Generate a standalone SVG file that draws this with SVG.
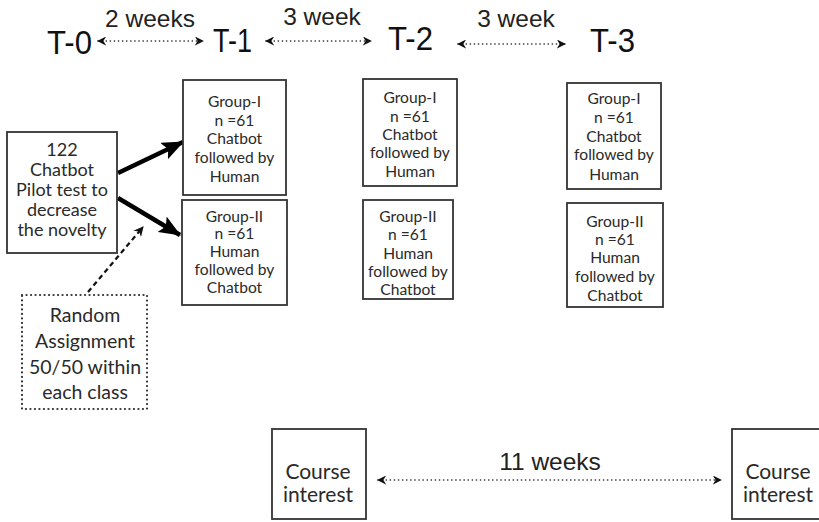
<svg xmlns="http://www.w3.org/2000/svg" width="819" height="522" viewBox="0 0 819 522">
  <style>
    .box { fill: #ffffff; stroke: #333333; stroke-width: 1.8; }
    .rand { fill: #ffffff; stroke: #333333; stroke-width: 2.2; stroke-dasharray: 0.1 4.4; stroke-linecap: round; }
    .lbl { font-family: Lato, "Liberation Sans", sans-serif; fill: #2a2a2a; text-anchor: middle; dominant-baseline: central; }
    .g { font-size: 15.6px; }
    .big { font-size: 18px; }
    .rnd { font-size: 19.5px; }
    .ci { font-size: 21px; }
    .tp { font-family: "Liberation Sans", Arial, sans-serif; fill: #111111; font-size: 34px; }
    .wk { font-family: "Liberation Sans", Arial, sans-serif; fill: #222222; font-size: 24.5px; text-anchor: middle; }
    .dot { fill: none; stroke: #222222; stroke-width: 1.6; stroke-dasharray: 0.1 4; stroke-linecap: round; }
    .thick { fill: none; stroke: #000000; stroke-width: 4.5; }
    .dash { fill: none; stroke: #111111; stroke-width: 2.2; stroke-dasharray: 5 3.5; }
  </style>
  <defs>
    <marker id="tip" viewBox="0 0 10 10" refX="9" refY="5" markerWidth="9" markerHeight="9" markerUnits="userSpaceOnUse" orient="auto-start-reverse">
      <path d="M0,0 L10,5 L0,10 L3,5 Z" fill="#111111"/>
    </marker>
    <marker id="bigtip" viewBox="0 0 10 10" refX="9.5" refY="5" markerWidth="22" markerHeight="18" markerUnits="userSpaceOnUse" orient="auto" preserveAspectRatio="none">
      <path d="M0,0 L10,5 L0,10 L2,5 Z" fill="#000000"/>
    </marker>
    <marker id="dtip" viewBox="0 0 10 10" refX="9" refY="5" markerWidth="10" markerHeight="10" markerUnits="userSpaceOnUse" orient="auto">
      <path d="M0,0 L10,5 L0,10 L3,5 Z" fill="#111111"/>
    </marker>
  </defs>

  <!-- time points -->
  <g id="timepoints">
    <text class="tp" x="47" y="54" textLength="45" lengthAdjust="spacingAndGlyphs">T-0</text>
    <text class="tp" x="213" y="52" textLength="39" lengthAdjust="spacingAndGlyphs">T-1</text>
    <text class="tp" x="388" y="50" textLength="45" lengthAdjust="spacingAndGlyphs">T-2</text>
    <text class="tp" x="590" y="52" textLength="45" lengthAdjust="spacingAndGlyphs">T-3</text>
  </g>

  <!-- interval labels -->
  <g id="intervals">
    <text class="wk" x="150" y="27">2 weeks</text>
    <text class="wk" x="322" y="25">3 week</text>
    <text class="wk" x="516" y="27">3 week</text>
    <text class="wk" x="550" y="470">11 weeks</text>
  </g>

  <!-- connectors -->
  <g id="connectors">
    <line class="dot" x1="98" y1="41" x2="203" y2="41" marker-start="url(#tip)" marker-end="url(#tip)"/>
    <line class="dot" x1="266" y1="41" x2="371" y2="41" marker-start="url(#tip)" marker-end="url(#tip)"/>
    <line class="dot" x1="458" y1="44" x2="565" y2="44" marker-start="url(#tip)" marker-end="url(#tip)"/>
    <line class="dot" x1="378" y1="480" x2="721" y2="480" marker-start="url(#tip)" marker-end="url(#tip)"/>
    <line class="thick" x1="118" y1="173" x2="183" y2="142" marker-end="url(#bigtip)"/>
    <line class="thick" x1="118" y1="198" x2="180" y2="235" marker-end="url(#bigtip)"/>
    <line class="dash" x1="88" y1="292" x2="143" y2="227" marker-end="url(#dtip)"/>
  </g>

  <!-- pilot test -->
  <g id="pilot">
    <rect class="box" x="7" y="132" width="110" height="121"/>
    <text class="lbl big"><tspan x="62" y="149">122</tspan><tspan x="62" y="169">Chatbot</tspan><tspan x="62" y="189">Pilot test to</tspan><tspan x="62" y="209">decrease</tspan><tspan x="62" y="229">the novelty</tspan></text>
  </g>

  <!-- random assignment -->
  <g id="random">
    <rect class="rand" x="22" y="295" width="125" height="114"/>
    <text class="lbl rnd"><tspan x="85" y="314">Random</tspan><tspan x="85" y="340">Assignment</tspan><tspan x="85" y="366">50/50 within</tspan><tspan x="85" y="391">each class</tspan></text>
  </g>

  <!-- T-1 groups -->
  <g id="t1-group1">
    <rect class="box" x="183" y="80" width="103" height="115"/>
    <text class="lbl g"><tspan x="234.5" y="101">Group-I</tspan><tspan x="234.5" y="120">n =61</tspan><tspan x="234.5" y="138">Chatbot</tspan><tspan x="234.5" y="157">followed by</tspan><tspan x="234.5" y="176">Human</tspan></text>
  </g>
  <g id="t1-group2">
    <rect class="box" x="182" y="200" width="105" height="105"/>
    <text class="lbl g"><tspan x="234.5" y="216">Group-II</tspan><tspan x="234.5" y="233">n =61</tspan><tspan x="234.5" y="251">Human</tspan><tspan x="234.5" y="269">followed by</tspan><tspan x="234.5" y="287">Chatbot</tspan></text>
  </g>

  <!-- T-2 groups -->
  <g id="t2-group1">
    <rect class="box" x="363" y="79" width="94" height="107"/>
    <text class="lbl g"><tspan x="410" y="97">Group-I</tspan><tspan x="410" y="116">n =61</tspan><tspan x="410" y="134">Chatbot</tspan><tspan x="410" y="152">followed by</tspan><tspan x="410" y="171">Human</tspan></text>
  </g>
  <g id="t2-group2">
    <rect class="box" x="363" y="200" width="90" height="99"/>
    <text class="lbl g"><tspan x="408" y="216">Group-II</tspan><tspan x="408" y="234">n =61</tspan><tspan x="408" y="253">Human</tspan><tspan x="408" y="271">followed by</tspan><tspan x="408" y="289">Chatbot</tspan></text>
  </g>

  <!-- T-3 groups -->
  <g id="t3-group1">
    <rect class="box" x="567" y="83" width="94" height="106"/>
    <text class="lbl g"><tspan x="614" y="98">Group-I</tspan><tspan x="614" y="117">n =61</tspan><tspan x="614" y="136">Chatbot</tspan><tspan x="614" y="154">followed by</tspan><tspan x="614" y="174">Human</tspan></text>
  </g>
  <g id="t3-group2">
    <rect class="box" x="567" y="203" width="96" height="104"/>
    <text class="lbl g"><tspan x="615" y="221">Group-II</tspan><tspan x="615" y="239">n =61</tspan><tspan x="615" y="257">Human</tspan><tspan x="615" y="276">followed by</tspan><tspan x="615" y="295">Chatbot</tspan></text>
  </g>

  <!-- course interest measures (second box runs past the right edge) -->
  <g id="interest-start">
    <rect class="box" x="272" y="429" width="94" height="90"/>
    <text class="lbl ci"><tspan x="318" y="470">Course</tspan><tspan x="318" y="493">interest</tspan></text>
  </g>
  <g id="interest-end">
    <rect class="box" x="732" y="429" width="94" height="90"/>
    <text class="lbl ci"><tspan x="778" y="470">Course</tspan><tspan x="778" y="493">interest</tspan></text>
  </g>
</svg>
